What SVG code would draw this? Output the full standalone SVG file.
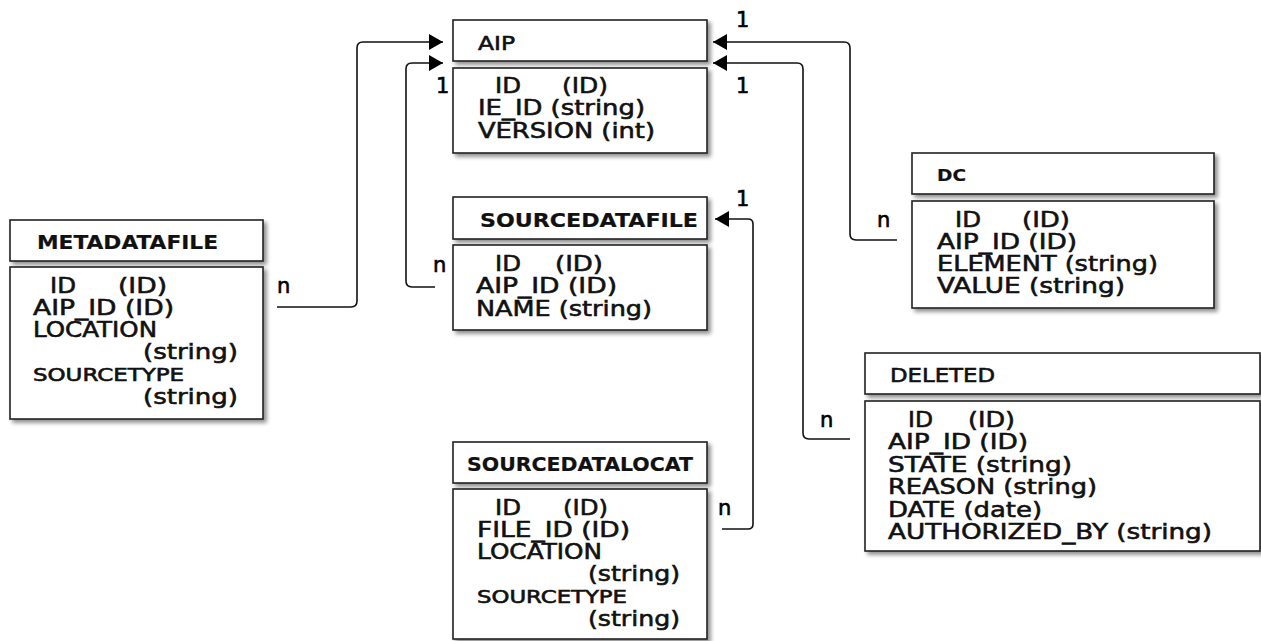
<svg xmlns="http://www.w3.org/2000/svg" width="1261" height="641" viewBox="0 0 1261 641">
  <defs>
    <filter id="shadow" x="-5%" y="-5%" width="115%" height="120%">
      <feGaussianBlur in="SourceAlpha" stdDeviation="2"/>
      <feOffset dx="3" dy="3" result="b"/>
      <feComponentTransfer><feFuncA type="linear" slope="0.45"/></feComponentTransfer>
      <feMerge><feMergeNode/><feMergeNode in="SourceGraphic"/></feMerge>
    </filter>
    <marker id="arrow" viewBox="0 0 14 16" refX="14" refY="8" markerWidth="14" markerHeight="16" markerUnits="userSpaceOnUse" orient="auto">
      <path d="M0,0 L14,8 L0,16 Z" fill="#000"/>
    </marker>
  </defs>
  <style>
    .box { fill: #fff; stroke: #222; stroke-width: 1.6; filter: url(#shadow); }
    text { font-family: "DejaVu Sans", Verdana, sans-serif; fill: #111; stroke: #111; stroke-width: 0.6; }
    .title { font-size: 20px; }
    .heavy { font-weight: bold; stroke-width: 0.2; }
    .field { font-size: 22px; }
    .small { font-size: 17px; }
    .card { font-size: 21px; fill: #000; stroke: #000; }
    .conn { fill: none; stroke: #111; stroke-width: 1.6; }
  </style>
  <rect width="1261" height="641" fill="#fff"/>

  <!-- connectors -->
  <g id="connectors">
    <path class="conn" d="M277,307 H351 Q357,307 357,301 V48 Q357,42 363,42 H443" marker-end="url(#arrow)"/>
    <path class="conn" d="M435,287 H412 Q406,287 406,281 V69 Q406,63 412,63 H443" marker-end="url(#arrow)"/>
    <path class="conn" d="M897,240 H856 Q850,240 850,234 V48 Q850,42 844,42 H713" marker-end="url(#arrow)"/>
    <path class="conn" d="M850,439 H809 Q803,439 803,433 V69 Q803,63 797,63 H713" marker-end="url(#arrow)"/>
    <path class="conn" d="M722,529 H748 Q753,529 753,524 V224 Q753,219 748,219 H715" marker-end="url(#arrow)"/>
    <text class="card" x="736" y="27">1</text>
    <text class="card" x="436" y="93">1</text>
    <text class="card" x="736" y="93">1</text>
    <text class="card" x="736" y="206">1</text>
    <text class="card" x="277" y="293">n</text>
    <text class="card" x="433" y="272">n</text>
    <text class="card" x="877" y="227">n</text>
    <text class="card" x="820" y="427">n</text>
    <text class="card" x="718" y="515">n</text>
  </g>

  <g id="aip">
    <rect class="box" x="453" y="20" width="254" height="41"/>
    <rect class="box" x="453" y="68" width="254" height="85"/>
    <text class="title" x="478" y="50" textLength="37" lengthAdjust="spacingAndGlyphs">AIP</text>
    <text class="field" x="495" y="93" textLength="26" lengthAdjust="spacingAndGlyphs">ID</text>
    <text class="field" x="562" y="93" textLength="46" lengthAdjust="spacingAndGlyphs">(ID)</text>
    <text class="field" x="478" y="115" textLength="167" lengthAdjust="spacingAndGlyphs">IE_ID (string)</text>
    <text class="field" x="478" y="138" textLength="177" lengthAdjust="spacingAndGlyphs">VERSION (int)</text>
  </g>

  <g id="metadatafile">
    <rect class="box" x="10" y="220" width="253" height="41"/>
    <rect class="box" x="10" y="267" width="253" height="152"/>
    <text class="title heavy" x="37" y="249" textLength="181" lengthAdjust="spacingAndGlyphs">METADATAFILE</text>
    <text class="field" x="50" y="293" textLength="26" lengthAdjust="spacingAndGlyphs">ID</text>
    <text class="field" x="118" y="293" textLength="49" lengthAdjust="spacingAndGlyphs">(ID)</text>
    <text class="field" x="33" y="315" textLength="141" lengthAdjust="spacingAndGlyphs">AIP_ID (ID)</text>
    <text class="field" x="33" y="337" textLength="124" lengthAdjust="spacingAndGlyphs">LOCATION</text>
    <text class="field" x="143" y="359" textLength="95" lengthAdjust="spacingAndGlyphs">(string)</text>
    <text class="small" x="33" y="381" textLength="151" lengthAdjust="spacingAndGlyphs">SOURCETYPE</text>
    <text class="field" x="143" y="404" textLength="95" lengthAdjust="spacingAndGlyphs">(string)</text>
  </g>

  <g id="sourcedatafile">
    <rect class="box" x="453" y="197" width="254" height="42"/>
    <rect class="box" x="453" y="245" width="254" height="85"/>
    <text class="title heavy" x="480" y="227" textLength="218" lengthAdjust="spacingAndGlyphs">SOURCEDATAFILE</text>
    <text class="field" x="495" y="271" textLength="26" lengthAdjust="spacingAndGlyphs">ID</text>
    <text class="field" x="555" y="271" textLength="48" lengthAdjust="spacingAndGlyphs">(ID)</text>
    <text class="field" x="476" y="293" textLength="141" lengthAdjust="spacingAndGlyphs">AIP_ID (ID)</text>
    <text class="field" x="476" y="316" textLength="176" lengthAdjust="spacingAndGlyphs">NAME (string)</text>
  </g>

  <g id="sourcedatalocat">
    <rect class="box" x="453" y="442" width="254" height="41"/>
    <rect class="box" x="453" y="489" width="254" height="150"/>
    <text class="title heavy" x="467" y="471" textLength="226" lengthAdjust="spacingAndGlyphs">SOURCEDATALOCAT</text>
    <text class="field" x="495" y="515" textLength="26" lengthAdjust="spacingAndGlyphs">ID</text>
    <text class="field" x="563" y="515" textLength="45" lengthAdjust="spacingAndGlyphs">(ID)</text>
    <text class="field" x="477" y="537" textLength="153" lengthAdjust="spacingAndGlyphs">FILE_ID (ID)</text>
    <text class="field" x="477" y="559" textLength="125" lengthAdjust="spacingAndGlyphs">LOCATION</text>
    <text class="field" x="588" y="581" textLength="92" lengthAdjust="spacingAndGlyphs">(string)</text>
    <text class="small" x="477" y="603" textLength="150" lengthAdjust="spacingAndGlyphs">SOURCETYPE</text>
    <text class="field" x="588" y="626" textLength="92" lengthAdjust="spacingAndGlyphs">(string)</text>
  </g>

  <g id="dc">
    <rect class="box" x="912" y="153" width="302" height="41"/>
    <rect class="box" x="912" y="201" width="302" height="107"/>
    <text class="title heavy" x="937" y="181" style="font-size:16px" textLength="29" lengthAdjust="spacingAndGlyphs">DC</text>
    <text class="field" x="955" y="227" textLength="26" lengthAdjust="spacingAndGlyphs">ID</text>
    <text class="field" x="1022" y="227" textLength="48" lengthAdjust="spacingAndGlyphs">(ID)</text>
    <text class="field" x="937" y="249" textLength="140" lengthAdjust="spacingAndGlyphs">AIP_ID (ID)</text>
    <text class="field" x="937" y="271" textLength="221" lengthAdjust="spacingAndGlyphs">ELEMENT (string)</text>
    <text class="field" x="937" y="293" textLength="188" lengthAdjust="spacingAndGlyphs">VALUE (string)</text>
  </g>

  <g id="deleted">
    <rect class="box" x="865" y="353" width="395" height="41"/>
    <rect class="box" x="865" y="401" width="395" height="150"/>
    <text class="title" x="890" y="382" textLength="105" lengthAdjust="spacingAndGlyphs">DELETED</text>
    <text class="field" x="908" y="427" textLength="25" lengthAdjust="spacingAndGlyphs">ID</text>
    <text class="field" x="968" y="427" textLength="47" lengthAdjust="spacingAndGlyphs">(ID)</text>
    <text class="field" x="888" y="449" textLength="140" lengthAdjust="spacingAndGlyphs">AIP_ID (ID)</text>
    <text class="field" x="888" y="472" textLength="184" lengthAdjust="spacingAndGlyphs">STATE (string)</text>
    <text class="field" x="888" y="494" textLength="209" lengthAdjust="spacingAndGlyphs">REASON (string)</text>
    <text class="field" x="888" y="517" textLength="154" lengthAdjust="spacingAndGlyphs">DATE (date)</text>
    <text class="field" x="888" y="539" textLength="324" lengthAdjust="spacingAndGlyphs">AUTHORIZED_BY (string)</text>
  </g>
</svg>
